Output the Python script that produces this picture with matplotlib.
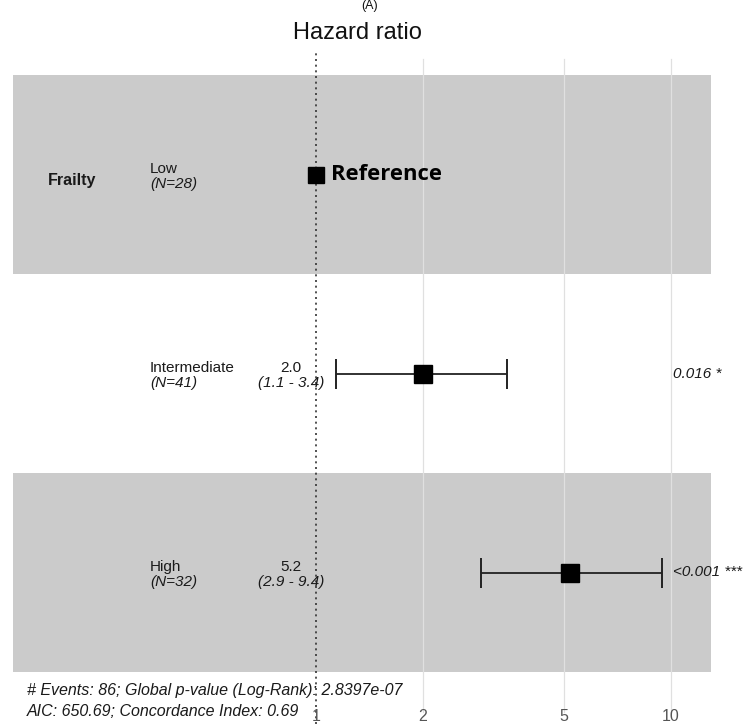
import numpy as np
import matplotlib
matplotlib.use("Agg")
import matplotlib.pyplot as plt
import matplotlib.transforms as mtransforms

# forest plot data
variable = "Frailty"
levels = ["Low", "Intermediate", "High"]
n_counts = [28, 41, 32]
hr = [1.0, 2.0, 5.2]
ci_low = [np.nan, 1.14, 2.91]
ci_high = [np.nan, 3.46, 9.45]
hr_labels = ["", "2.0", "5.2"]
ci_labels = ["", "(1.1 - 3.4)", "(2.9 - 9.4)"]
p_labels = ["", "0.016 *", "<0.001 ***"]
xticks = [1, 2, 5, 10]
footer = ["# Events: 86; Global p-value (Log-Rank): 2.8397e-07",
          "AIC: 650.69; Concordance Index: 0.69"]

plt.rcParams["font.family"] = ["Liberation Sans", "DejaVu Sans"]

fig = plt.figure(figsize=(7.47, 7.25), dpi=100)
ax = fig.add_axes([13 / 747, 1 - 672 / 725, 698 / 747, 597 / 725])
ax.set_xscale("log")
ax.set_xlim(0.14, 12.97)
ax.set_ylim(0, 3)
for s in ax.spines.values():
    s.set_visible(False)
ax.set_yticks([])
ax.set_xticks([])
ax.minorticks_off()

nrow = len(levels)
ypos = [nrow - 0.5 - i for i in range(nrow)]

# alternating row bands
for i, y in enumerate(ypos):
    if i % 2 == 0:
        ax.axhspan(y - 0.5, y + 0.5, color="#cbcbcb", zorder=0, lw=0)

# grid lines and reference line
for t in xticks[1:]:
    ax.plot([t, t], [-0.2, 3.08], color="#e0e0e0", lw=0.9, zorder=1, clip_on=False)
ax.plot([1, 1], [-0.26, 3.115], color="#333333", lw=1.2, ls=(0, (1.2, 2.2)),
        zorder=2, clip_on=False)

# estimates
for i, y in enumerate(ypos):
    if not np.isnan(ci_low[i]):
        ax.errorbar(hr[i], y, xerr=[[hr[i] - ci_low[i]], [ci_high[i] - hr[i]]],
                    fmt="none", ecolor="#222222", elinewidth=1.3, capsize=10.5,
                    capthick=1.4, zorder=3)
    ax.plot(hr[i], y, marker="s", ms=12.5 if i else 11.5, color="black",
            ls="none", zorder=4)

fs = 11
tc = "#1a1a1a"
up, dn = 0.028, -0.05
trans = mtransforms.blended_transform_factory(ax.transAxes, ax.transData)
ax.text(0.0845, ypos[0] - 0.03, variable, transform=trans, ha="center",
        va="center", fontsize=11.5, fontweight="bold", color=tc)
for i, y in enumerate(ypos):
    ax.text(0.196, y + up, levels[i], transform=trans, ha="left",
            va="center", fontsize=fs, color=tc)
    ax.text(0.196, y + dn, f"(N={n_counts[i]})", transform=trans, ha="left",
            va="center", fontsize=fs, style="italic", color=tc)
    if hr_labels[i]:
        ax.text(0.398, y + up, hr_labels[i], transform=trans, ha="center",
                va="center", fontsize=fs, color=tc)
        ax.text(0.398, y + dn, ci_labels[i], transform=trans, ha="center",
                va="center", fontsize=fs, style="italic", color=tc)
    if p_labels[i]:
        ax.text(0.946, y, p_labels[i], transform=trans, ha="left",
                va="center", fontsize=fs, style="italic", color=tc)

ax.text(1.1, ypos[0], "Reference", ha="left", va="center", fontsize=15.8,
        fontweight="bold", family=["Open Sans", "DejaVu Sans"], color="black")

# x tick labels
for t in xticks:
    ax.text(t, -0.225, str(t), ha="center", va="center", fontsize=11.5,
            color="#555555", clip_on=False)

fig.text(357 / 747, 1 - 33 / 725, "Hazard ratio", ha="center", va="center",
         fontsize=17, color="#111111")
fig.text(370 / 747, 1.0, "(A)", ha="center", va="top", fontsize=9,
         color="#111111")

fig.text(27 / 747, 1 - 690 / 725, footer[0], ha="left", va="center",
         fontsize=11.5, style="italic", color=tc)
fig.text(27 / 747, 1 - 712 / 725, footer[1], ha="left", va="center",
         fontsize=11.5, style="italic", color=tc)

fig.savefig("out.png", dpi=100)
